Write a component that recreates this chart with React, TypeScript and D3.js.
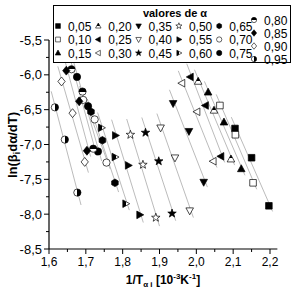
import React, { useEffect, useRef } from 'react';
import * as d3 from 'd3';

// conversion values (legend labels)
const alphaLabels = ['0,05', '0,10', '0,15', '0,20', '0,25', '0,30', '0,35', '0,40', '0,45', '0,50',
  '0,55', '0,60', '0,65', '0,70', '0,75', '0,80', '0,85', '0,90', '0,95'];

// marker shape + fill for each alpha
const markerShapes = ['square', 'square', 'triUp', 'triUp', 'triLeft', 'triLeft', 'triDown', 'triDown', 'star', 'star',
  'triRight', 'triRight', 'hexagon', 'circle', 'circle', 'circle', 'diamond', 'diamond', 'circle'];
const markerFills = ['filled', 'open', 'filled', 'halfTop', 'filled', 'open', 'filled', 'open', 'filled', 'open',
  'filled', 'halfLeft', 'filled', 'open', 'filled', 'halfTop', 'filled', 'open', 'halfRight'];

// 1/T (10^-3 K^-1) for the three heating rates, per alpha
const invT = [
  [2.105, 2.150, 2.197],
  [2.064, 2.106, 2.154],
  [2.032, 2.075, 2.122],
  [2.005, 2.048, 2.094],
  [1.984, 2.025, 2.067],
  [1.961, 2.002, 2.046],
  [1.937, 1.980, 2.020],
  [1.903, 1.942, 1.982],
  [1.862, 1.898, 1.934],
  [1.821, 1.855, 1.890],
  [1.780, 1.815, 1.846],
  [1.742, 1.779, 1.808],
  [1.714, 1.745, 1.779],
  [1.693, 1.724, 1.756],
  [1.676, 1.706, 1.733],
  [1.661, 1.691, 1.720],
  [1.647, 1.682, 1.703],
  [1.634, 1.664, 1.697],
  [1.616, 1.643, 1.677],
];

// ln(beta_i da/dT)
const lnRate = [
  [-6.77, -7.19, -7.88],
  [-6.44, -6.86, -7.55],
  [-6.25, -6.68, -7.35],
  [-6.095, -6.51, -7.21],
  [-6.03, -6.44, -7.17],
  [-6.12, -6.53, -7.24],
  [-6.41, -6.81, -7.54],
  [-6.76, -7.19, -7.95],
  [-6.83, -7.24, -7.99],
  [-6.86, -7.29, -8.05],
  [-6.87, -7.30, -8.01],
  [-6.76, -7.18, -7.85],
  [-6.53, -6.94, -7.55],
  [-6.36, -6.64, -7.26],
  [-6.03, -6.45, -7.10],
  [-5.92, -6.24, -7.06],
  [-5.94, -6.38, -7.09],
  [-6.095, -6.55, -7.25],
  [-6.467, -6.93, -7.69],
];

const xTicks = [1.6, 1.7, 1.8, 1.9, 2.0, 2.1, 2.2];
const yTicks = [-5.5, -6.0, -6.5, -7.0, -7.5, -8.0, -8.5];

const fmt = (v: number) => v.toFixed(1).replace('.', ',');

function shapePath(shape: string, s: number) {
  const pts = (arr: number[][]) => 'M' + arr.map((p) => p[0] * s + ',' + p[1] * s).join('L') + 'Z';
  switch (shape) {
    case 'square': return pts([[-1, -1], [1, -1], [1, 1], [-1, 1]]);
    case 'triUp': return pts([[0, -1.25], [1.15, 0.85], [-1.15, 0.85]]);
    case 'triDown': return pts([[0, 1.25], [1.15, -0.85], [-1.15, -0.85]]);
    case 'triLeft': return pts([[-1.25, 0], [0.85, -1.15], [0.85, 1.15]]);
    case 'triRight': return pts([[1.25, 0], [-0.85, -1.15], [-0.85, 1.15]]);
    case 'diamond': return pts([[0, -1.35], [1.1, 0], [0, 1.35], [-1.1, 0]]);
    case 'hexagon': return pts(d3.range(6).map((i) => {
      const a = Math.PI / 6 + i * Math.PI / 3;
      return [1.15 * Math.cos(a), 1.15 * Math.sin(a)];
    }));
    case 'star': return pts(d3.range(10).map((i) => {
      const a = -Math.PI / 2 + i * Math.PI / 5;
      const r = i % 2 === 0 ? 1.35 : 0.55;
      return [r * Math.cos(a), r * Math.sin(a)];
    }));
    default: {
      const r = 1.1 * s;
      return `M${-r},0A${r},${r} 0 1,0 ${r},0A${r},${r} 0 1,0 ${-r},0Z`;
    }
  }
}

function fillFor(kind: string) {
  if (kind === 'filled') return '#000';
  if (kind === 'open') return '#fff';
  return `url(#${kind})`;
}

const App = () => {
  const ref = useRef<SVGSVGElement>(null);

  useEffect(() => {
    const width = 293;
    const height = 292;
    const svg = d3.select(ref.current);
    svg.selectAll('*').remove();

    const defs = svg.append('defs');
    const grad = (id: string, x2: number, y2: number) => {
      const g = defs.append('linearGradient').attr('id', id)
        .attr('x1', 0).attr('y1', 0).attr('x2', x2).attr('y2', y2);
      g.append('stop').attr('offset', '50%').attr('stop-color', '#000');
      g.append('stop').attr('offset', '50%').attr('stop-color', '#fff');
    };
    grad('halfTop', 0, 1);
    grad('halfLeft', 1, 0);
    const gr = defs.append('linearGradient').attr('id', 'halfRight')
      .attr('x1', 0).attr('y1', 0).attr('x2', 1).attr('y2', 0);
    gr.append('stop').attr('offset', '50%').attr('stop-color', '#fff');
    gr.append('stop').attr('offset', '50%').attr('stop-color', '#000');

    const x = d3.scaleLinear().domain([1.6, 2.2]).range([49, 270]);
    const y = d3.scaleLinear().domain([-8.5, -5.5]).range([249, 40]);

    const font = 'Liberation Sans, Arial, sans-serif';

    // axes
    const xAxis = svg.append('g').attr('transform', 'translate(0,249)');
    xAxis.append('line').attr('x1', 49).attr('x2', x(2.22)).attr('stroke', '#000').attr('stroke-width', 1.2);
    xAxis.selectAll('line.minor').data(d3.range(1.6, 2.221, 0.05)).enter().append('line')
      .attr('x1', (d) => x(d)).attr('x2', (d) => x(d)).attr('y1', 0)
      .attr('y2', (d, i) => (i % 2 === 0 ? 5 : 3)).attr('stroke', '#000');
    xAxis.selectAll('text').data(xTicks).enter().append('text')
      .attr('x', (d) => x(d)).attr('y', 17).attr('text-anchor', 'middle')
      .attr('font-family', font).attr('font-size', 12).text(fmt);

    const yAxis = svg.append('g').attr('transform', 'translate(49,0)');
    yAxis.append('line').attr('y1', 249).attr('y2', y(-5.5)).attr('stroke', '#000').attr('stroke-width', 1.2);
    yAxis.selectAll('line.minor').data(d3.range(0, 13)).enter().append('line')
      .attr('y1', (i) => y(-8.5 + i * 0.25)).attr('y2', (i) => y(-8.5 + i * 0.25))
      .attr('x1', 0).attr('x2', (i) => (i % 2 === 0 ? -5 : -3)).attr('stroke', '#000');
    yAxis.selectAll('text').data(yTicks).enter().append('text')
      .attr('x', -7).attr('y', (d) => y(d) + 4.5).attr('text-anchor', 'end')
      .attr('font-family', font).attr('font-size', 13).text(fmt);

    // fit lines
    const lines = svg.append('g');
    invT.forEach((xs, k) => {
      const ys = lnRate[k];
      const mx = d3.mean(xs)!;
      const my = d3.mean(ys)!;
      const b = d3.sum(xs, (v, i) => (v - mx) * (ys[i] - my)) / d3.sum(xs, (v) => (v - mx) ** 2);
      const x0 = d3.min(xs)! - 0.01;
      const x1 = d3.max(xs)! + 0.01;
      lines.append('line')
        .attr('x1', x(x0)).attr('y1', y(my + b * (x0 - mx)))
        .attr('x2', x(x1)).attr('y2', y(my + b * (x1 - mx)))
        .attr('stroke', '#aaa').attr('stroke-width', 0.8);
    });

    // markers
    const pts = svg.append('g');
    invT.forEach((xs, k) => {
      xs.forEach((v, i) => {
        pts.append('path')
          .attr('d', shapePath(markerShapes[k], 3.3))
          .attr('transform', `translate(${x(v)},${y(lnRate[k][i])})`)
          .attr('fill', fillFor(markerFills[k]))
          .attr('stroke', '#000').attr('stroke-width', 0.7);
      });
    });

    // legend
    const lg = svg.append('g');
    lg.append('rect').attr('x', 53.5).attr('y', 5.5).attr('width', 237).attr('height', 57)
      .attr('fill', '#fff').attr('stroke', '#000').attr('stroke-width', 1);
    lg.append('text').attr('x', 175).attr('y', 17).attr('text-anchor', 'middle')
      .attr('font-family', font).attr('font-size', 11).attr('font-weight', 'bold').text('valores de α');
    alphaLabels.forEach((lab, k) => {
      let mx: number;
      let my: number;
      if (k < 15) {
        mx = 58 + Math.floor(k / 3) * 40.3;
        my = 26 + (k % 3) * 13.5;
      } else {
        mx = 254;
        my = 20 + (k - 15) * 13;
      }
      lg.append('path')
        .attr('d', shapePath(markerShapes[k], 2.4))
        .attr('transform', `translate(${mx},${my})`)
        .attr('fill', fillFor(markerFills[k]))
        .attr('stroke', '#000').attr('stroke-width', 0.6);
      lg.append('text').attr('x', mx + 10).attr('y', my + 4.5)
        .attr('font-family', font).attr('font-size', 12).text(lab);
    });

    // axis titles
    const xt = svg.append('text').attr('x', 163).attr('y', 284).attr('text-anchor', 'middle')
      .attr('font-family', font).attr('font-size', 12).attr('font-weight', 'bold');
    xt.append('tspan').text('1/T');
    xt.append('tspan').attr('font-size', 8).attr('dy', 3).text('α i');
    xt.append('tspan').attr('dy', -3).text(' [10');
    xt.append('tspan').attr('font-size', 8).attr('dy', -5).text('-3');
    xt.append('tspan').attr('dy', 5).text('K');
    xt.append('tspan').attr('font-size', 8).attr('dy', -5).text('-1');
    xt.append('tspan').attr('dy', 5).text(']');

    const yt = svg.append('text').attr('transform', 'translate(17,145) rotate(-90)')
      .attr('text-anchor', 'middle')
      .attr('font-family', font).attr('font-size', 13).attr('font-weight', 'bold');
    yt.append('tspan').text('ln(β');
    yt.append('tspan').attr('font-size', 9).attr('dy', 3).text('i');
    yt.append('tspan').attr('dy', -3).text('dα/dT)');

    svg.attr('width', width).attr('height', height);
  }, []);

  return (
    <svg ref={ref} width={293} height={292}
      style={{ position: 'absolute', left: 0, top: 0, background: '#fff' }} />
  );
};

export default App;
